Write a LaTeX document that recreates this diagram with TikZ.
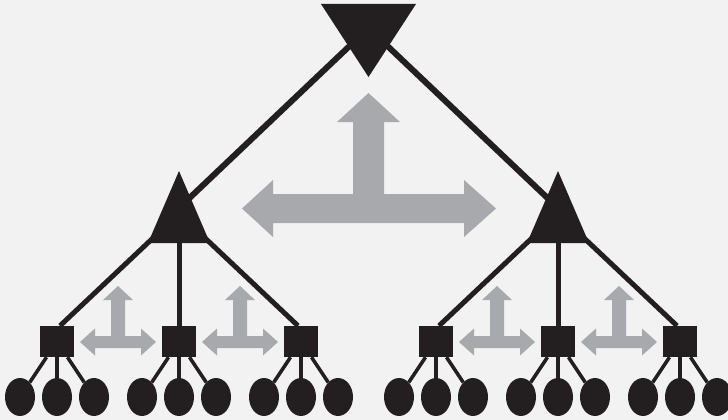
\documentclass[tikz,border=0pt]{standalone}
\usetikzlibrary{shapes.geometric}
\definecolor{ink}{HTML}{231F20}
\definecolor{arrowgray}{HTML}{A7A9AC}
\definecolor{bg}{HTML}{F2F2F2}
\tikzset{
  sqbox/.style={rectangle, fill=ink, minimum width=34pt, minimum height=31pt, inner sep=0pt},
  leaf/.style={ellipse, fill=ink, minimum width=30pt, minimum height=38pt, inner sep=0pt},
  thickline/.style={draw=ink, line width=6pt},
  midline/.style={draw=ink, line width=5pt},
  thinline/.style={draw=ink, line width=3.5pt},
  tri/.style={fill=ink},
  grayarrow/.style={fill=arrowgray},
  tsmall/.pic={
    \path[grayarrow] (-38,0) -- (-23,-13.5) -- (-23,-6) -- (-7,-6) -- (-7,-42) -- (-15,-42)
      -- (0,-56) -- (15,-42) -- (7,-42) -- (7,-6) -- (23,-6) -- (23,-13.5) -- (38,0)
      -- (23,13.5) -- (23,6) -- (-23,6) -- (-23,13.5) -- cycle;
  }
}
\begin{document}
\begin{tikzpicture}[x=1pt,y=-1pt]
\fill[bg] (0,0) rectangle (728,420);
\useasboundingbox (0,0) rectangle (728,420);

% big gray T-arrow
\path[grayarrow] (242,208.5) -- (273,180) -- (273,194) -- (353,194) -- (353,122) -- (337,122)
  -- (368.5,93) -- (400,122) -- (384,122) -- (384,194) -- (464,194) -- (464,180)
  -- (496,208.5) -- (464,237) -- (464,223) -- (273,223) -- (273,237) -- cycle;

% small gray T-arrows
\pic at (118,342) {tsmall};
\pic at (240,342) {tsmall};
\pic at (497,342) {tsmall};
\pic at (619,342) {tsmall};

% triangles
\path[tri] (321,4) -- (416,4) -- (368.5,77) -- cycle;
\path[tri] (179,171) -- (210,243) -- (148,243) -- cycle;
\path[tri] (558,171) -- (589,243) -- (527,243) -- cycle;

\coordinate (top) at (368.5,28);
\coordinate (Lc) at (179,208);
\coordinate (Rc) at (558,208);
\coordinate (Lbl) at (153,238);
\coordinate (Lbm) at (179,238);
\coordinate (Lbr) at (205,238);
\coordinate (Rbl) at (532,238);
\coordinate (Rbm) at (558,238);
\coordinate (Rbr) at (584,238);

% squares
\foreach \n/\x in {s1/57, s2/179, s3/301, s4/436, s5/558, s6/680}
  \node[sqbox] (\n) at (\x,341.5) {};

% leaves
\foreach \s/\x in {s1/57, s2/179, s3/301, s4/436, s5/558, s6/680}{
  \node[leaf] (\s-a) at (\x-37,397) {};
  \node[leaf] (\s-b) at (\x,397) {};
  \node[leaf] (\s-c) at (\x+37,397) {};
}

% connectors
\draw[thickline] (top) -- (Lc);
\draw[thickline] (top) -- (Rc);

\draw[midline] (Lbl) -- ([xshift=3pt]s1.north);
\draw[midline] (Lbm) -- (s2.north);
\draw[midline] (Lbr) -- ([xshift=-3pt]s3.north);
\draw[midline] (Rbl) -- ([xshift=3pt]s4.north);
\draw[midline] (Rbm) -- (s5.north);
\draw[midline] (Rbr) -- ([xshift=-3pt]s6.north);

\foreach \s in {s1,s2,s3,s4,s5,s6}{
  \draw[thinline] (\s) -- (\s-a);
  \draw[thinline] (\s) -- (\s-b);
  \draw[thinline] (\s) -- (\s-c);
}
\end{tikzpicture}
\end{document}
